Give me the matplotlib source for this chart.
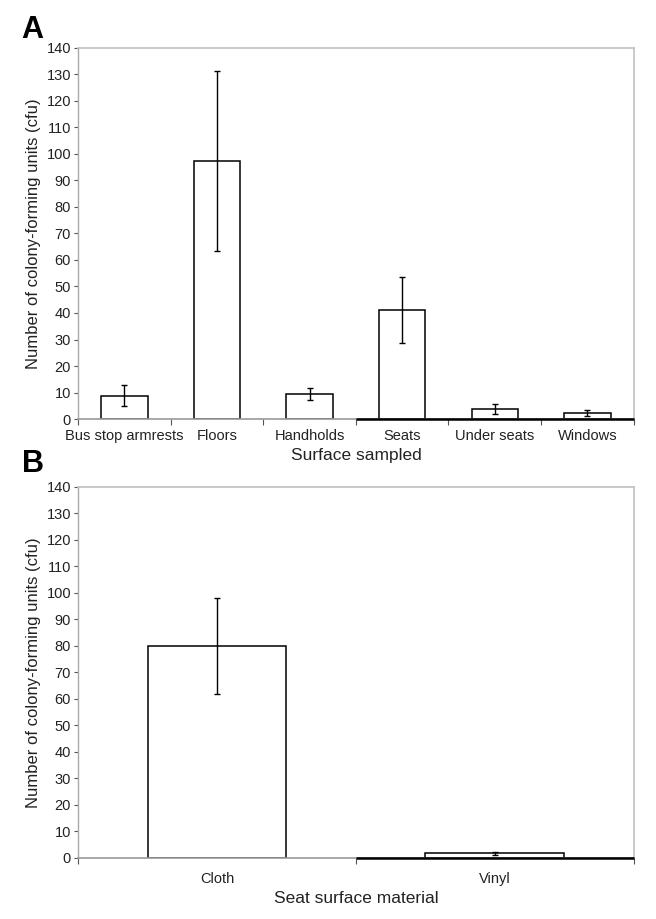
import matplotlib
matplotlib.use("Agg")
import matplotlib.pyplot as plt
import numpy as np

plt.rcParams['font.family'] = ['Liberation Sans', 'DejaVu Sans']

surfaces = ["Bus stop armrests", "Floors", "Handholds", "Seats", "Under seats", "Windows"]
surface_means = [8.8, 97.2, 9.5, 41.0, 3.8, 2.2]
surface_err = [3.9, 34.0, 2.2, 12.5, 1.9, 1.2]

materials = ["Cloth", "Vinyl"]
material_means = [80.0, 1.8]
material_err = [18.0, 0.6]

yticks = list(range(0, 141, 10))

fig = plt.figure(figsize=(6.56, 9.19), dpi=100)
axA = fig.add_axes([0.119, 0.544, 0.847, 0.404])
axB = fig.add_axes([0.119, 0.0664, 0.847, 0.4037])

text_color = "#222222"

def style(ax, cats, means, errs, xlabel):
    x = np.arange(len(cats))
    ax.bar(x, means, width=0.5, color="white", edgecolor="black", linewidth=1.1, zorder=2)
    ax.errorbar(x, means, yerr=errs, fmt="none", ecolor="black", elinewidth=1.0,
                capsize=2, capthick=1.0, zorder=3)
    ax.set_xlim(-0.5, len(cats) - 0.5)
    ax.set_ylim(0, 140)
    ax.set_yticks(yticks)
    ax.set_yticklabels([str(v) for v in yticks], fontsize=10.5, color=text_color)
    ax.set_xticks(x)
    ax.set_xticklabels(cats, fontsize=10.5, color=text_color)
    ax.tick_params(axis="x", length=0, pad=7)
    ax.tick_params(axis="y", length=3, width=0.8, color="#555555", pad=2)
    ax.set_xticks(np.arange(len(cats) + 1) - 0.5, minor=True)
    ax.tick_params(axis="x", which="minor", length=4, width=0.8, color="#555555")
    for s in ["top", "right"]:
        ax.spines[s].set_color("#c0c0c0")
        ax.spines[s].set_linewidth(1.2)
    ax.spines["left"].set_color("#aaaaaa")
    ax.spines["left"].set_linewidth(1.0)
    ax.spines["bottom"].set_color("#999999")
    ax.spines["bottom"].set_linewidth(1.2)
    ax.plot([(len(cats) - 1) / 2.0, len(cats) - 0.5], [0, 0], color="black",
            linewidth=1.8, zorder=4, clip_on=False, solid_capstyle="butt")
    ax.set_ylabel("Number of colony-forming units (cfu)", fontsize=12, color=text_color, labelpad=4)
    ax.set_xlabel(xlabel, fontsize=12.5, color=text_color, labelpad=4)

style(axA, surfaces, surface_means, surface_err, "Surface sampled")
style(axB, materials, material_means, material_err, "Seat surface material")
axB.tick_params(axis="x", pad=10)

fig.text(0.033, 0.951, "A", fontsize=22, fontweight="bold", color="black", va="bottom")
fig.text(0.033, 0.479, "B", fontsize=22, fontweight="bold", color="black", va="bottom")

fig.savefig("out.png", dpi=100, facecolor="white")
